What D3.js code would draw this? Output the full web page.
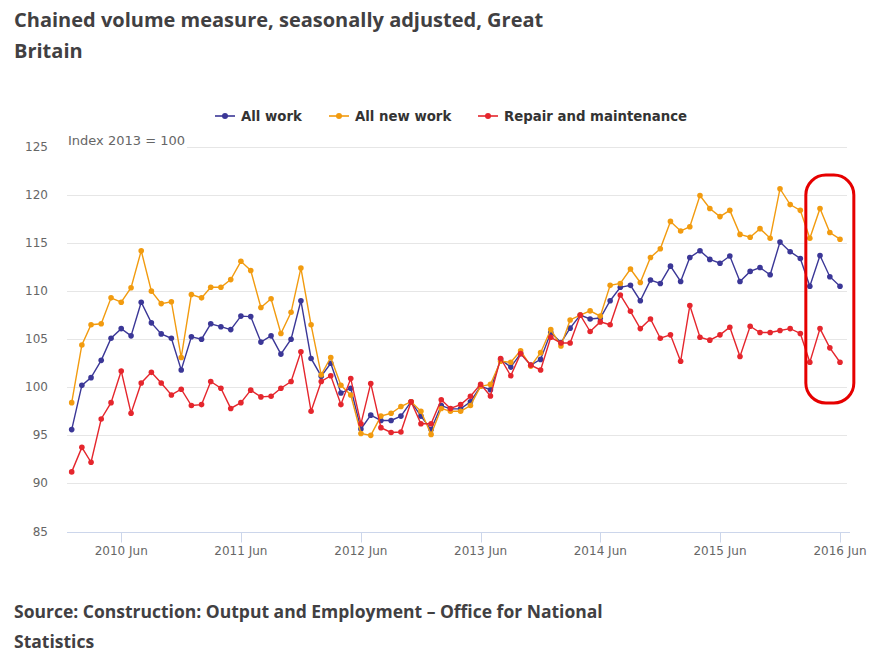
<!DOCTYPE html>
<html><head><meta charset="utf-8">
<script src="https://cdn.jsdelivr.net/npm/d3@7"></script>
<style>
html,body{margin:0;padding:0;background:#fff;}
svg{display:block;}
</style>
</head><body>
<svg id="chart" width="896" height="672"></svg>
<script>
const startMonth = "2010-01";
const allWork = [95.6,100.2,101.0,102.8,105.1,106.1,105.35,108.85,106.7,105.55,105.1,101.8,
105.25,105.0,106.6,106.3,106.0,107.4,107.35,104.7,105.35,103.45,105.0,109.0,
103.0,101.15,102.5,99.4,99.9,95.66,97.1,96.55,96.55,97.0,98.5,97.0,
95.6,98.1,97.75,97.75,98.5,100.1,99.75,102.9,102.1,103.5,102.3,102.9,
105.7,104.65,106.15,107.5,107.1,107.2,109.0,110.4,110.6,109.0,111.15,110.8,
112.6,111.0,113.5,114.2,113.3,112.9,113.65,111.0,112.05,112.45,111.7,115.1,
114.1,113.4,110.5,113.7,111.5,110.5];
const allNewWork = [98.4,104.4,106.5,106.6,109.3,108.85,110.35,114.2,110.0,108.7,108.9,103.1,
109.65,109.3,110.4,110.4,111.2,113.1,112.15,108.3,109.2,105.6,107.8,112.4,
106.5,101.3,103.1,100.2,99.2,95.2,95.0,97.0,97.3,98.0,98.5,97.5,
95.1,97.8,97.5,97.5,98.1,100.1,100.3,102.7,102.6,103.8,102.2,103.6,
106.0,104.3,107.0,107.5,107.95,107.4,110.6,110.8,112.3,110.9,113.5,114.4,
117.25,116.25,116.7,119.95,118.6,117.75,118.4,115.9,115.6,116.5,115.5,120.65,
119.0,118.4,115.5,118.6,116.1,115.4];
const repairMaint = [91.2,93.75,92.2,96.7,98.4,101.7,97.3,100.45,101.55,100.45,99.2,99.8,
98.1,98.2,100.6,99.9,97.8,98.4,99.7,99.0,99.06,99.9,100.6,103.7,
97.5,100.6,101.2,98.2,100.9,96.2,100.4,95.8,95.3,95.35,98.5,96.2,
96.2,98.7,97.8,98.2,99.06,100.3,99.1,103.0,101.2,103.5,102.3,101.8,
105.2,104.6,104.6,107.5,105.8,106.8,106.5,109.6,107.9,106.1,107.1,105.1,
105.45,102.7,108.5,105.2,104.9,105.45,106.25,103.2,106.35,105.7,105.7,105.9,
106.1,105.6,102.6,106.1,104.1,102.6];
const seriesNames = ["All work","All new work","Repair and maintenance"];
const seriesColors = ["#3b3797","#f29b0f","#e5262d"];
const yTicks = [85,90,95,100,105,110,115,120,125];
const xTickLabels = ["2010 Jun","2011 Jun","2012 Jun","2013 Jun","2014 Jun","2015 Jun","2016 Jun"];
const titleLines = ["Chained volume measure, seasonally adjusted, Great","Britain"];
const sourceLines = ["Source: Construction: Output and Employment \u2013 Office for National","Statistics"];
const unitLabel = "Index 2013 = 100";

const parseMonth = d3.timeParse("%Y-%m");
const parseLabel = d3.timeParse("%Y %b");
const t0 = parseMonth(startMonth);
const dates = allWork.map((_, i) => d3.timeMonth.offset(t0, i));
const series = [allWork, allNewWork, repairMaint].map((vals, k) => ({
  name: seriesNames[k], color: seriesColors[k],
  values: vals.map((v, i) => ({date: dates[i], value: v}))
}));

const svg = d3.select("#chart");
const plotLeft = 67, plotRight = 847;
const x = d3.scaleTime().domain([dates[0], dates[dates.length-1]]).range([71.7, 840]);
const y = d3.scaleLinear().domain([85,125]).range([531.5, 146.9]);

// title
const titleG = svg.append("g").attr("font-family","'Open Sans', sans-serif").attr("font-weight","bold")
  .attr("font-size", 20).attr("fill","#414042");
titleLines.forEach((t,i)=> titleG.append("text").attr("x",14).attr("y",27 + i*31).text(t));
const srcG = svg.append("g").attr("font-family","'Open Sans', sans-serif").attr("font-weight","bold")
  .attr("font-size", 17.5).attr("fill","#414042");
sourceLines.forEach((t,i)=> srcG.append("text").attr("x",14).attr("y",618 + i*30).text(t));

// gridlines
svg.append("g").selectAll("line").data(yTicks.filter(d=>d!==85)).join("line")
  .attr("x1",plotLeft).attr("x2",plotRight)
  .attr("y1",d=>Math.round(y(d))+0.5).attr("y2",d=>Math.round(y(d))+0.5)
  .attr("stroke","#e6e6e6").attr("stroke-width",1);

// y labels
svg.append("g").attr("font-family","'DejaVu Sans', Verdana, sans-serif").attr("font-size",12).attr("fill","#666")
  .selectAll("text").data(yTicks).join("text")
  .attr("x",48).attr("y",d=>y(d)+4).attr("text-anchor","end").text(d=>d);

// x axis
const xAxisY = Math.round(y(85))+0.5;
svg.append("line").attr("x1",plotLeft).attr("x2",plotRight+3).attr("y1",xAxisY).attr("y2",xAxisY)
  .attr("stroke","#ccd6eb").attr("stroke-width",1);
const tickDates = xTickLabels.map(s=>parseLabel(s));
const xg = svg.append("g");
xg.selectAll("line").data(tickDates).join("line")
  .attr("x1",d=>Math.round(x(d))+0.5).attr("x2",d=>Math.round(x(d))+0.5)
  .attr("y1",xAxisY).attr("y2",xAxisY+10).attr("stroke","#ccd6eb");
xg.selectAll("text").data(tickDates).join("text")
  .attr("x",d=>x(d)).attr("y",555).attr("text-anchor","middle")
  .attr("font-family","'DejaVu Sans', Verdana, sans-serif").attr("font-size",12).attr("fill","#666")
  .text((d,i)=>xTickLabels[i]);

// unit label with white background
const ul = svg.append("g");
const ult = ul.append("text").attr("x",68).attr("y",145)
  .attr("font-family","'DejaVu Sans', Verdana, sans-serif").attr("font-size",13).attr("fill","#666").text(unitLabel);
const bb = ult.node().getBBox();
ul.insert("rect","text").attr("x",bb.x-1).attr("y",bb.y).attr("width",bb.width+3).attr("height",bb.height).attr("fill","#fff");

// lines
const line = d3.line().x(d=>x(d.date)).y(d=>y(d.value));
const sg = svg.append("g").selectAll("g").data(series).join("g");
sg.append("path").attr("d",d=>line(d.values)).attr("fill","none").attr("stroke",d=>d.color).attr("stroke-width",1.4);
sg.selectAll("circle").data(d=>d.values.map(v=>({...v,color:d.color}))).join("circle")
  .attr("cx",d=>x(d.date)).attr("cy",d=>y(d.value)).attr("r",2.8).attr("fill",d=>d.color);

// legend
const legendItems = [{x:215},{x:329},{x:478}];
const lg = svg.append("g");
series.forEach((s,i)=>{
  const lx = legendItems[i].x, ly = 116;
  lg.append("line").attr("x1",lx).attr("x2",lx+20).attr("y1",ly).attr("y2",ly).attr("stroke",s.color).attr("stroke-width",2).attr("opacity",0.8);
  lg.append("circle").attr("cx",lx+10).attr("cy",ly).attr("r",3).attr("fill",s.color);
  lg.append("text").attr("x",lx+26).attr("y",ly+5).attr("font-family","'DejaVu Sans', Verdana, sans-serif")
    .attr("font-weight","bold").attr("font-size",13.3).attr("fill","#333").text(s.name);
});

// highlight box
svg.append("rect").attr("x",x(dates[74])-4).attr("y",175).attr("width",48).attr("height",228)
  .attr("rx",20).attr("ry",20).attr("fill","none").attr("stroke","#e60000").attr("stroke-width",3);
</script>
</body></html>
